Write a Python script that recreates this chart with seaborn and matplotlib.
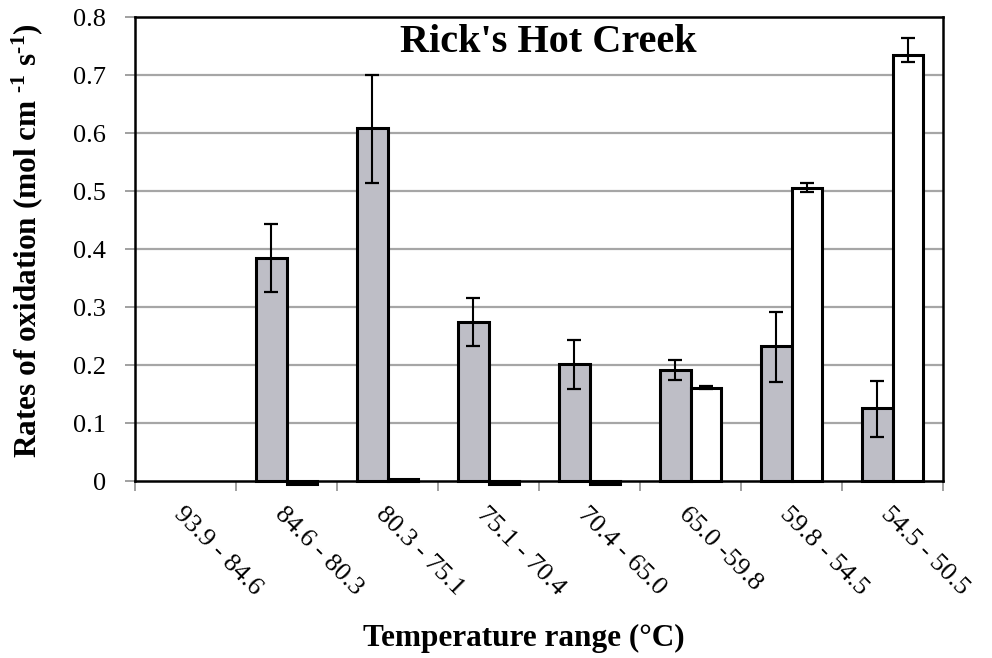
import numpy as np
import pandas as pd
import matplotlib
matplotlib.use("Agg")
import matplotlib.pyplot as plt
import seaborn as sns

# Temperature ranges along the creek (°C)
categories = ["93.9 - 84.6", "84.6 - 80.3", "80.3 - 75.1", "75.1 - 70.4",
              "70.4 - 65.0", "65.0 -59.8", "59.8 - 54.5", "54.5 - 50.5"]

# Oxidation rates, grey series
rate_1 = [0.0, 0.385, 0.609, 0.275, 0.201, 0.191, 0.233, 0.126]
err_1_lo = [0.0, 0.059, 0.095, 0.043, 0.042, 0.017, 0.063, 0.050]
err_1_hi = [0.0, 0.058, 0.091, 0.040, 0.042, 0.018, 0.059, 0.047]

# Oxidation rates, white series
rate_2 = [0.0, -0.006, 0.003, -0.006, -0.006, 0.161, 0.506, 0.735]
err_2_lo = [0.0, 0.0, 0.0, 0.0, 0.0, 0.002, 0.007, 0.013]
err_2_hi = [0.0, 0.0, 0.0, 0.0, 0.0, 0.002, 0.007, 0.029]

series = ["Series 1", "Series 2"]
colors = {"Series 1": "#bcbcc8", "Series 2": "#ffffff"}

y_ticks = [0, 0.1, 0.2, 0.3, 0.4, 0.5, 0.6, 0.7, 0.8]
y_ticklabels = ["0", "0.1", "0.2", "0.3", "0.4", "0.5", "0.6", "0.7", "0.8"]

sns.set_theme(style="white")
plt.rcParams["font.family"] = ["Liberation Serif", "DejaVu Serif"]
plt.rcParams["mathtext.default"] = "regular"
plt.rcParams["text.color"] = "black"
plt.rcParams["axes.labelcolor"] = "black"

df = pd.DataFrame({
    "range": categories * 2,
    "series": [series[0]] * len(categories) + [series[1]] * len(categories),
    "rate": rate_1 + rate_2,
})

fig = plt.figure(figsize=(9.92, 6.58), dpi=100)
ax = fig.add_axes([135 / 992, 1 - 481 / 658, 808 / 992, 464 / 658])

sns.barplot(data=df, x="range", y="rate", hue="series", order=categories,
            hue_order=series, palette=colors, width=0.6, gap=0,
            edgecolor="black", linewidth=2.2, errorbar=None, legend=False,
            ax=ax, zorder=3)

errs = [(err_1_lo, err_1_hi), (err_2_lo, err_2_hi)]
vals = [rate_1, rate_2]
for cont, (lo, hi), v in zip(ax.containers, errs, vals):
    xs = [p.get_x() + p.get_width() / 2 for p in cont.patches]
    for p in cont.patches:
        p.set_clip_on(False)
        if p.get_height() == 0:
            p.set_visible(False)
    idx = [i for i in range(len(v)) if lo[i] > 0 or hi[i] > 0]
    ax.errorbar([xs[i] for i in idx], [v[i] for i in idx],
                yerr=[[lo[i] for i in idx], [hi[i] for i in idx]],
                fmt="none", ecolor="black", elinewidth=1.5, capsize=4.7,
                capthick=1.6, zorder=4)

ax.set_ylim(0, 0.8)
ax.set_xlim(-0.5, len(categories) - 0.5)
ax.set_yticks(y_ticks)
ax.set_yticklabels(y_ticklabels, fontsize=19)
for yv in y_ticks[1:-1]:
    ax.axhline(yv, color="#a6a6a6", lw=1.6, zorder=1)

ax.tick_params(axis="y", which="major", direction="out", length=7, width=1.3,
               color="#999999", labelcolor="black", pad=14, left=True)
ax.set_xticks(np.arange(-0.5, len(categories)), minor=True)
ax.tick_params(axis="x", which="minor", direction="out", length=7, width=1.3,
               color="#999999", bottom=True)
ax.tick_params(axis="x", which="major", length=0, pad=16, labelcolor="black")
ax.set_xticks(range(len(categories)))
ax.set_xticklabels(categories, fontsize=19, rotation=-45, ha="left",
                   va="top", rotation_mode="anchor")

for s in ax.spines.values():
    s.set_color("black")
    s.set_linewidth(1.8)
    s.set_visible(True)

ax.set_xlabel("Temperature range (°C)", fontsize=22.5, fontweight="bold")
ax.xaxis.set_label_coords(0.481, -0.308)
ax.set_ylabel("Rates of oxidation (mol cm $^{\u20101}$ s$^{\u20101}$)",
              fontsize=22.5, fontweight="bold")
ax.yaxis.set_label_coords(-0.112, 0.519)

ax.text(0.512, 0.945, "Rick's Hot Creek", transform=ax.transAxes,
        ha="center", va="center", fontsize=29, fontweight="bold")

fig.savefig("out.png", dpi=100)
